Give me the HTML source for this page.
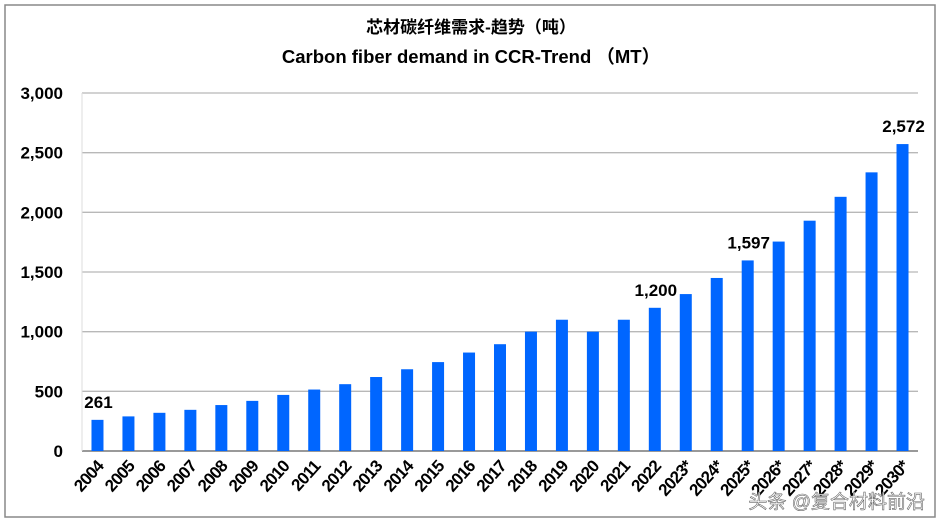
<!DOCTYPE html>
<html><head><meta charset="utf-8"><style>
body{margin:0;background:#fff;}
svg{display:block;font-family:"Liberation Sans","Noto Sans CJK SC",sans-serif;}
</style></head><body>
<svg id="c" width="943" height="527">
<rect x="5" y="5" width="930" height="512" fill="#fff" stroke="#888" stroke-width="1.5"/>
<text x="471" y="33" text-anchor="middle" font-size="17" font-weight="bold">芯材碳纤维需求-趋势（吨）</text>
<text x="471" y="63" text-anchor="middle" font-size="18.5" font-weight="bold">Carbon fiber demand in CCR-Trend （MT）</text>
<g id="grid"></g><g id="bars"></g><g id="labels"></g>
<text x="925" y="508" text-anchor="end" font-size="19" fill="#fff" stroke="#666" stroke-width="0.6">头条 @复合材料前沿</text>
</svg>
<script>
const categories=["2004","2005","2006","2007","2008","2009","2010","2011","2012","2013","2014","2015","2016","2017","2018","2019","2020","2021","2022","2023*","2024*","2025*","2026*","2027*","2028*","2029*","2030*"];
const values=[261,290,320,345,385,420,470,515,560,620,685,745,825,895,1000,1100,1000,1100,1200,1315,1450,1597,1755,1930,2130,2335,2572];
const labeled=[0,18,21,26];
const yTicks=[0,500,1000,1500,2000,2500,3000];
const NS="http://www.w3.org/2000/svg";
const x0=82,x1=918,yb=451,yt=93,ymax=3000;
const y=v=>yb-(v/ymax)*(yb-yt);
const step=(x1-x0)/categories.length;
const xc=i=>x0+step*(i+0.5);
function mk(t,a,p){const e=document.createElementNS(NS,t);for(const k in a)e.setAttribute(k,a[k]);p.appendChild(e);return e;}
const g=document.getElementById('grid'),b=document.getElementById('bars'),l=document.getElementById('labels');
yTicks.forEach(v=>{
 const ln=mk('line',{x1:x0,x2:x1,y1:y(v),y2:y(v),stroke:v===0?'#999':'#b8b8b8','stroke-width':v===0?2:1.3},g);
 
 
 const t=mk('text',{x:63,y:y(v)+6,'text-anchor':'end','font-size':17,'font-weight':'bold'},g);
 t.textContent=v.toLocaleString('en-US');
 
 
});
mk('line',{x1:x0,x2:x0,y1:yt,y2:yb,stroke:'#ddd','stroke-width':1},g);
values.forEach((v,i)=>{
 const r=mk('rect',{x:xc(i)-6,y:y(v),width:12,height:yb-y(v),fill:'#0066ff'},b);
 
 
 const t=mk('text',{transform:`translate(${xc(i)+7},${467}) rotate(-48)`,'text-anchor':'end','font-size':17,'font-weight':'bold','letter-spacing':'-0.8'},l);
 t.textContent=categories[i];
 
 
});
labeled.forEach(i=>{
 const t=mk('text',{x:xc(i)+1,y:y(values[i])-12,'text-anchor':'middle','font-size':17,'font-weight':'bold'},l);
 t.textContent=values[i].toLocaleString('en-US');
 
 
});
</script>
</body></html>
